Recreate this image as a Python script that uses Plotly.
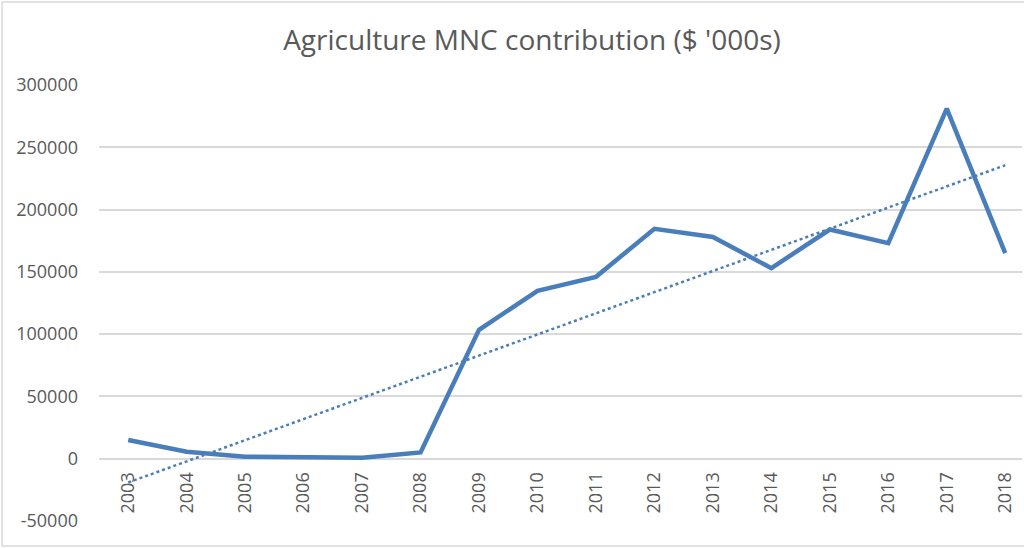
import numpy as np
import plotly.graph_objects as go

years = ["2003", "2004", "2005", "2006", "2007", "2008", "2009", "2010",
         "2011", "2012", "2013", "2014", "2015", "2016", "2017", "2018"]
contribution = [15000, 5600, 1600, 1200, 800, 5000, 103500, 134800,
                146000, 184600, 178000, 153000, 184000, 173000, 281000, 165000]
y_ticks = [-50000, 0, 50000, 100000, 150000, 200000, 250000, 300000]
title_text = "Agriculture MNC contribution ($ '000s)"

# linear trendline (least squares), as Excel's linear trendline
xi = np.arange(len(years))
slope, intercept = np.polyfit(xi, contribution, 1)
trend = slope * xi + intercept

W, H = 1024, 548
L, R, T, B = 99, 1022, 85, 521   # plot area in pixels
BLUE = "#4a7ebb"
GREY = "#595959"
GRID = "#d9d9d9"

fig = go.Figure()
fig.add_trace(go.Scatter(x=xi, y=contribution, mode="lines",
                         line=dict(color=BLUE, width=4.5), showlegend=False))
fig.add_trace(go.Scatter(x=xi, y=trend, mode="lines",
                         line=dict(color=BLUE, width=2.5, dash="dot"), showlegend=False))

ymin, ymax = y_ticks[0], y_ticks[-1]
pw, ph = R - L, B - T

def px_x(p):
    return (p - L) / pw

def px_y(p):
    return (B - p) / ph

fig.update_layout(
    width=W, height=H,
    margin=dict(l=L, r=W - R, t=T, b=H - B, autoexpand=False),
    paper_bgcolor="white", plot_bgcolor="white",
    font=dict(family="Open Sans", color=GREY),
    title=dict(text=title_text, x=532 / W, xanchor="center",
               y=1 - 40 / H, yanchor="middle", yref="container",
               font=dict(size=28, color=GREY, family="Open Sans")),
    xaxis=dict(
        range=[-0.5, (R - L) / ((1005 - 128) / 15) - 0.5],
        tickmode="array", tickvals=list(xi), ticktext=years,
        tickangle=-90, tickfont=dict(size=18, color=GREY),
        showgrid=False, zeroline=False, showline=False,
        anchor="free", position=(0 - ymin) / (ymax - ymin),
        ticklabelstandoff=9, ticks="", automargin=False,
    ),
    yaxis=dict(
        range=[ymin, ymax], tickmode="array", tickvals=y_ticks,
        ticktext=[str(v) for v in y_ticks],
        tickfont=dict(size=18, color=GREY),
        showgrid=True, gridcolor=GRID, gridwidth=1.5,
        zeroline=True, zerolinecolor=GRID, zerolinewidth=1.5,
        showline=False, ticklabelstandoff=20, ticks="", automargin=False,
    ),
    shapes=[dict(type="rect", xref="paper", yref="paper",
                 x0=px_x(2), x1=px_x(1040), y0=px_y(546), y1=px_y(2),
                 line=dict(color="#d9d9d9", width=1.5), layer="below")],
)

fig.write_html("out.html", config={"displayModeBar": False},
               post_script="document.body.style.margin='0';document.body.style.overflow='hidden';")
